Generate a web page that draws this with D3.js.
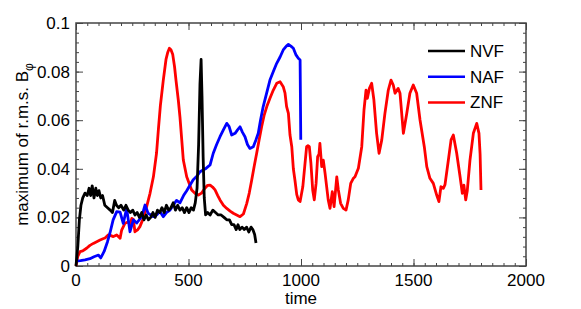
<!DOCTYPE html>
<html>
<head>
<meta charset="utf-8">
<script src="https://cdn.jsdelivr.net/npm/d3@7"></script>
<style>
  body { margin: 0; background: #fff; }
  text { font-family: "Liberation Sans", Arial, sans-serif; }
</style>
</head>
<body>
<svg id="chart" width="581" height="309"></svg>
<script>

// series as [time, max rms B_phi]
const nvf = [
    [0, 0.0], [8, 0.008], [15, 0.019], [22, 0.025], [30, 0.028], [40, 0.030], [50, 0.029],
    [58, 0.032], [65, 0.029], [72, 0.033], [80, 0.028], [88, 0.032], [95, 0.029], [102, 0.031],
    [110, 0.028], [118, 0.029], [128, 0.025], [140, 0.024], [152, 0.023], [162, 0.022],
    [172, 0.027], [180, 0.025], [190, 0.024], [200, 0.025], [212, 0.023], [222, 0.025],
    [232, 0.023], [242, 0.022], [252, 0.023], [262, 0.021], [272, 0.022], [282, 0.020],
    [292, 0.022], [302, 0.019], [312, 0.021], [322, 0.019], [332, 0.020], [342, 0.022],
    [352, 0.020], [362, 0.023], [372, 0.022], [382, 0.024], [392, 0.022], [402, 0.025],
    [412, 0.023], [422, 0.024], [432, 0.026], [442, 0.023], [452, 0.025], [462, 0.023],
    [472, 0.024], [482, 0.022], [492, 0.024], [502, 0.022], [512, 0.024], [522, 0.023],
    [530, 0.026], [538, 0.032], [545, 0.050], [551, 0.075], [556, 0.085], [560, 0.070],
    [565, 0.045], [570, 0.028], [576, 0.021], [585, 0.022], [596, 0.021], [608, 0.023],
    [620, 0.022], [632, 0.021], [645, 0.021], [658, 0.020], [670, 0.019], [682, 0.019],
    [692, 0.017], [702, 0.017], [712, 0.015], [720, 0.017], [728, 0.015], [738, 0.016],
    [748, 0.015], [758, 0.016], [768, 0.014], [778, 0.016], [786, 0.015], [794, 0.013],
    [800, 0.0095]
];

const naf = [
    [0, 0.002], [20, 0.0022], [40, 0.0025], [62, 0.003], [80, 0.0038], [100, 0.0045],
    [110, 0.0033], [125, 0.006], [140, 0.010], [151, 0.0136], [165, 0.019], [181, 0.0224],
    [196, 0.0222], [210, 0.0175], [225, 0.0237], [240, 0.0141], [255, 0.019], [270, 0.0177],
    [292, 0.0203], [307, 0.0251], [320, 0.0218], [343, 0.0203], [358, 0.021], [373, 0.0224],
    [388, 0.0203], [402, 0.022], [418, 0.023], [432, 0.025], [447, 0.027], [462, 0.026],
    [478, 0.029], [492, 0.031], [507, 0.0333], [521, 0.0355], [538, 0.037], [551, 0.0388],
    [575, 0.040], [596, 0.0416], [610, 0.0464], [625, 0.050], [640, 0.0532], [655, 0.056],
    [670, 0.0587], [680, 0.0575], [692, 0.0539], [707, 0.0546], [718, 0.056], [729, 0.0573],
    [740, 0.055], [751, 0.0532], [762, 0.050], [773, 0.0484], [788, 0.0491], [800, 0.052],
    [810, 0.0546], [820, 0.060], [832, 0.0656], [847, 0.071], [862, 0.0765], [877, 0.080],
    [892, 0.0834], [907, 0.086], [921, 0.0889], [935, 0.0905], [944, 0.0912], [955, 0.0905],
    [966, 0.0896], [977, 0.087], [988, 0.0855], [996, 0.0848], [999, 0.052]
];

const znf = [
    [0, 0.0], [8, 0.004], [18, 0.0059], [30, 0.0062], [47, 0.0073], [62, 0.0085],
    [77, 0.0093], [92, 0.0100], [107, 0.0107], [120, 0.0112], [129, 0.0115], [144, 0.0128],
    [155, 0.0125], [166, 0.0121], [181, 0.0128], [196, 0.0114], [203, 0.0148], [218, 0.0176],
    [233, 0.0182], [240, 0.0169], [248, 0.0196], [255, 0.0192], [262, 0.0141], [275, 0.015],
    [284, 0.0162], [299, 0.0196], [314, 0.0244], [329, 0.0299], [344, 0.0367], [358, 0.0465],
    [366, 0.056], [375, 0.066], [388, 0.0765], [400, 0.085], [408, 0.088], [415, 0.0896],
    [422, 0.089], [430, 0.087], [438, 0.082], [445, 0.076], [455, 0.068], [462, 0.0614],
    [470, 0.0519], [477, 0.0436], [492, 0.0367], [514, 0.0313], [530, 0.0298], [544, 0.0292],
    [558, 0.030], [573, 0.032], [585, 0.0332], [596, 0.0333], [607, 0.0325], [618, 0.0313],
    [630, 0.029], [640, 0.0272], [655, 0.025], [670, 0.0237], [685, 0.0226], [699, 0.0217],
    [714, 0.021], [729, 0.0203], [744, 0.0214], [759, 0.0258], [770, 0.030], [781, 0.0354],
    [792, 0.041], [803, 0.0464], [814, 0.052], [825, 0.0573], [836, 0.062], [848, 0.0656],
    [862, 0.069], [877, 0.0724], [892, 0.0752], [907, 0.0758], [921, 0.0738], [929, 0.0711],
    [936, 0.0656], [944, 0.0628], [951, 0.0540], [959, 0.0491], [966, 0.0400], [973, 0.0354],
    [981, 0.0295], [988, 0.0272], [996, 0.0265], [1008, 0.0326], [1018, 0.0423],
    [1025, 0.0491], [1031, 0.0495], [1037, 0.0491], [1044, 0.0423], [1052, 0.0313],
    [1059, 0.0272], [1067, 0.034], [1074, 0.045], [1080, 0.046], [1084, 0.0505],
    [1092, 0.0409], [1099, 0.0436], [1107, 0.0381], [1121, 0.0272], [1129, 0.0237],
    [1139, 0.0306], [1147, 0.0244], [1159, 0.0367], [1166, 0.0313], [1176, 0.0258],
    [1188, 0.0237], [1200, 0.023], [1210, 0.0272], [1221, 0.034], [1232, 0.036],
    [1240, 0.0367], [1255, 0.0402], [1270, 0.0491], [1280, 0.0642], [1289, 0.0724],
    [1295, 0.069], [1304, 0.0731], [1314, 0.0752], [1324, 0.0683], [1336, 0.0546],
    [1347, 0.0464], [1359, 0.0519], [1373, 0.0628], [1388, 0.0724], [1400, 0.0765],
    [1410, 0.0745], [1418, 0.0711], [1432, 0.0731], [1440, 0.0711], [1455, 0.0546],
    [1470, 0.0628], [1484, 0.0711], [1499, 0.0745], [1514, 0.0711], [1529, 0.0601],
    [1548, 0.0491], [1559, 0.0409], [1573, 0.0361], [1588, 0.034], [1603, 0.0292],
    [1613, 0.0265], [1622, 0.0326], [1633, 0.032], [1640, 0.0335], [1655, 0.0436],
    [1667, 0.0519], [1677, 0.0539], [1692, 0.0464], [1707, 0.0367], [1717, 0.0299],
    [1724, 0.0333], [1732, 0.0272], [1739, 0.031], [1751, 0.0436], [1766, 0.0546],
    [1781, 0.0587], [1791, 0.0546], [1796, 0.046], [1800, 0.0313]
];

const seriesNames = ['NVF', 'NAF', 'ZNF'];
const seriesColors = ['#000000', '#0000ff', '#ff0000'];
const xTicks = [0, 500, 1000, 1500, 2000];
const yTicks = [0, 0.02, 0.04, 0.06, 0.08, 0.1];

const margin = {left: 76, top: 23, right: 55, bottom: 43};
const width = 581 - margin.left - margin.right;
const height = 309 - margin.top - margin.bottom;
const axisColor = '#444';

const svg = d3.select('#chart');
const g = svg.append('g')
    .attr('transform', 'translate(' + margin.left + ',' + margin.top + ')');

const x = d3.scaleLinear().domain([0, 2000]).range([0, width]);
const y = d3.scaleLinear().domain([0, 0.1]).range([height, 0]);

// minor ticks, all four sides, pointing inwards
const xMinor = d3.range(0, 2001, 50);
const yMinor = d3.range(0, 0.1001, 0.004);

function tickAxis(axis, scale, values, size) {
    return axis(scale).tickValues(values).tickSize(size).tickFormat('');
}

g.append('g').attr('transform', 'translate(0,' + height + ')')
    .call(tickAxis(d3.axisTop, x, xMinor, 3));
g.append('g').call(tickAxis(d3.axisBottom, x, xMinor, 3));
g.append('g').call(tickAxis(d3.axisRight, y, yMinor, 3));
g.append('g').attr('transform', 'translate(' + width + ',0)')
    .call(tickAxis(d3.axisLeft, y, yMinor, 3));

g.append('g').attr('transform', 'translate(0,' + height + ')')
    .call(tickAxis(d3.axisTop, x, xTicks, 7));
g.append('g').call(tickAxis(d3.axisBottom, x, xTicks, 7));
g.append('g').call(tickAxis(d3.axisRight, y, yTicks, 7));
g.append('g').attr('transform', 'translate(' + width + ',0)')
    .call(tickAxis(d3.axisLeft, y, yTicks, 7));

g.selectAll('.domain').remove();
g.selectAll('.tick line').attr('stroke', axisColor).attr('stroke-width', 1);

g.append('rect')
    .attr('width', width)
    .attr('height', height)
    .attr('fill', 'none')
    .attr('stroke', axisColor)
    .attr('stroke-width', 1.5);

// tick labels
g.selectAll('.xlab').data(xTicks).enter().append('text')
    .attr('x', d => x(d))
    .attr('y', height + 20)
    .attr('text-anchor', 'middle')
    .style('font-size', '17px')
    .text(d => d);

g.selectAll('.ylab').data(yTicks).enter().append('text')
    .attr('x', -6)
    .attr('y', d => y(d) + 6)
    .attr('text-anchor', 'end')
    .style('font-size', '17px')
    .text(d => d);

g.append('text')
    .attr('x', width / 2)
    .attr('y', height + 38)
    .attr('text-anchor', 'middle')
    .style('font-size', '17px')
    .text('time');

const ylab = svg.append('text')
    .attr('transform', 'translate(28,' + (margin.top + height / 2) + ') rotate(-90)')
    .attr('text-anchor', 'middle')
    .style('font-size', '17px');
ylab.append('tspan').text('maximum of r.m.s. B');
ylab.append('tspan').attr('dy', 5).style('font-size', '12px').text('\u03c6');

// data lines
const line = d3.line()
    .x(d => x(d[0]))
    .y(d => y(d[1]));

const allSeries = [nvf, naf, znf];
// draw order: red first, then blue, then black on top
[2, 1, 0].forEach(function (i) {
    g.append('path')
        .datum(allSeries[i])
        .attr('d', line)
        .attr('fill', 'none')
        .attr('stroke', seriesColors[i])
        .attr('stroke-width', 2.8)
        .attr('stroke-linejoin', 'round');
});

// legend
const legend = g.append('g').attr('transform', 'translate(352,28)');
seriesNames.forEach(function (name, i) {
    legend.append('line')
        .attr('x1', 0).attr('x2', 37)
        .attr('y1', i * 25.7).attr('y2', i * 25.7)
        .attr('stroke', seriesColors[i])
        .attr('stroke-width', 2.5);
    legend.append('text')
        .attr('x', 42)
        .attr('y', i * 25.7 + 6)
        .style('font-size', '17px')
        .text(name);
});

</script>
</body>
</html>
